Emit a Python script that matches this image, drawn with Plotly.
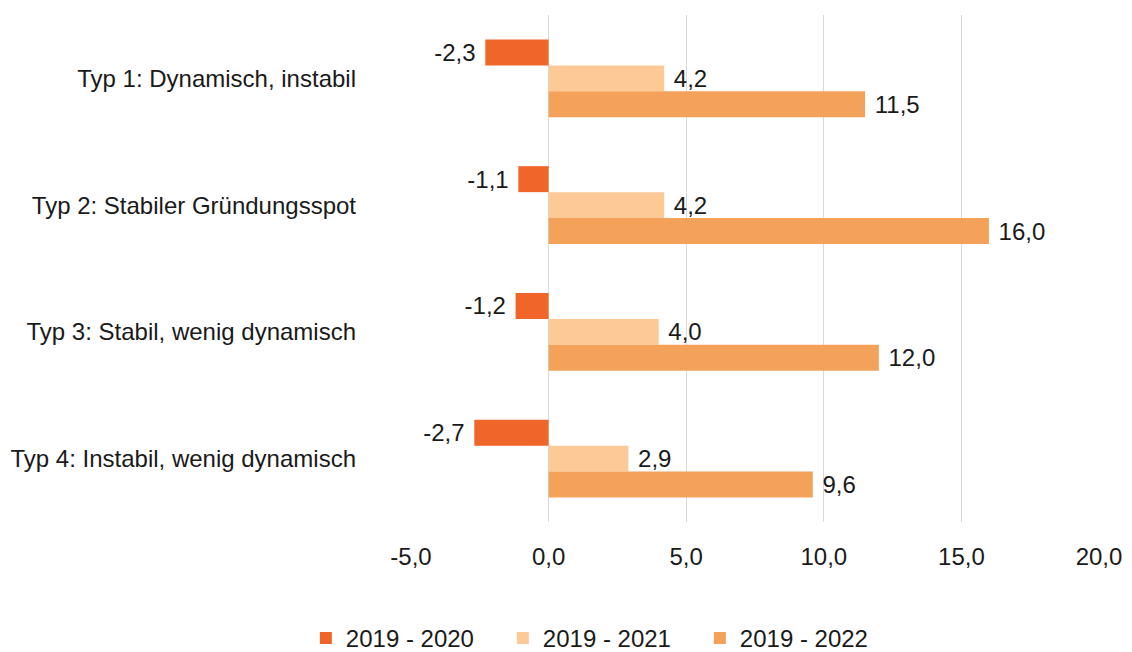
import plotly.graph_objects as go

categories = ["Typ 1: Dynamisch, instabil", "Typ 2: Stabiler Gründungsspot",
              "Typ 3: Stabil, wenig dynamisch", "Typ 4: Instabil, wenig dynamisch"]
series_names = ["2019 - 2020", "2019 - 2021", "2019 - 2022"]
v_2020 = [-2.3, -1.1, -1.2, -2.7]
v_2021 = [4.2, 4.2, 4.0, 2.9]
v_2022 = [11.5, 16.0, 12.0, 9.6]
tick_vals = [-5, 0, 5, 10, 15, 20]
tick_text = ["-5,0", "0,0", "5,0", "10,0", "15,0", "20,0"]

colors = ["#F0652A", "#FDCA97", "#F4A259"]
FONT = "Liberation Sans, Arial"
FS = 24
NB = "\u00a0"


def label(v):
    s = f"{v:.1f}".replace(".", ",")
    return s + NB if v < 0 else NB + s


fig = go.Figure()
for name, vals, col in zip(series_names, [v_2020, v_2021, v_2022], colors):
    fig.add_trace(go.Bar(
        y=categories, x=vals, name=name, orientation="h",
        marker=dict(color=col, line=dict(width=0)),
        text=[label(v) for v in vals], textposition="outside",
        textfont=dict(size=FS, color="#1a1a1a", family=FONT),
        cliponaxis=False,
    ))

fig.update_layout(
    width=1124, height=644,
    margin=dict(l=403, r=33, t=7, b=130),
    paper_bgcolor="white", plot_bgcolor="white",
    barmode="group", bargap=0.385, bargroupgap=0,
    font=dict(family=FONT, size=FS, color="#1a1a1a"),
    uniformtext=dict(minsize=FS, mode="show"),
    xaxis=dict(range=[-5, 20], tickvals=tick_vals, ticktext=tick_text,
               showgrid=True, gridcolor="#D9D9D9", gridwidth=1,
               zeroline=True, zerolinecolor="#D9D9D9", zerolinewidth=1,
               showline=False, ticks="", ticklabelstandoff=18,
               automargin=False, tickfont=dict(size=FS)),
    yaxis=dict(autorange="reversed", showgrid=False, showline=False, ticks="",
               ticklabelstandoff=54, automargin=False, tickfont=dict(size=FS)),
    legend=dict(orientation="h", xref="container", yref="container",
                x=0.265, xanchor="left", y=0.021, yanchor="middle",
                font=dict(size=FS), entrywidth=152, entrywidthmode="pixels",
                itemwidth=30, traceorder="normal"),
)

fig.write_html("out.html")
